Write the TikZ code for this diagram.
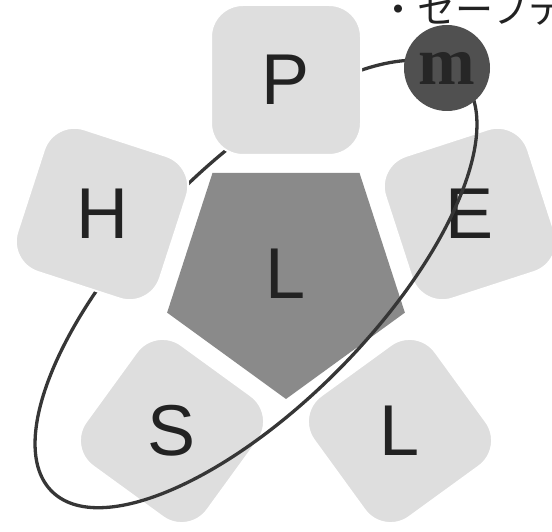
\documentclass[tikz,border=0pt]{standalone}
\usepackage{fontspec}
\setmainfont{Liberation Sans}
\newfontfamily\mfont{Liberation Serif}
\newfontfamily\jfont{Noto Sans CJK JP}
\usetikzlibrary{positioning}
\usetikzlibrary{shapes.geometric}
\definecolor{tilegray}{HTML}{DEDEDE}
\definecolor{coregray}{HTML}{8A8A8A}
\definecolor{ballgray}{HTML}{505050}
\definecolor{ink}{HTML}{222222}
\definecolor{orbitgray}{HTML}{363636}
\tikzset{tile/.style = {rectangle, rounded corners=32pt, fill=tilegray,
                        draw=white, line width=2pt, minimum size=150pt, inner sep=0}}
\tikzset{letter/.style = {text=ink, inner sep=0,
                          font=\fontsize{72pt}{72pt}\selectfont}}
\tikzset{core/.style = {regular polygon, regular polygon sides=5,
                        shape border rotate=180, fill=coregray,
                        minimum size=250pt, inner sep=0, text=ink,
                        font=\fontsize{72pt}{72pt}\selectfont}}
\tikzset{ball/.style = {circle, fill=ballgray, minimum size=86pt, inner sep=0,
                        text=black!85, font=\mfont\bfseries\fontsize{68pt}{68pt}\selectfont}}
\tikzset{orbit/.style = {draw=orbitgray, line width=3.3pt}}

\begin{document}
\begin{tikzpicture}[x=1pt, y=1pt]
      \useasboundingbox (0,0) rectangle (552,532);
      \clip (0,0) rectangle (552,532);

      \node[core] (core) at (286,258) {L};
      \node[tile, rotate=-36] (sbox) at (172,101) {};
      \node[letter] (s) at (sbox) {S};
      \node[tile, rotate=36] (lbox) at (400,101) {};
      \node[letter] (l) at (lbox) {L};
      \node[tile, rotate=18] (ebox) at (470,318) {};
      \node[letter] (e) at (ebox) {E};

      \draw[orbit] (256,248) circle[x radius=291pt, y radius=119pt, rotate=45.5];

      \node[tile, rotate=-18] (hbox) at (102,318) {};
      \node[letter] (h) at (hbox) {H};
      \node[tile] (pbox) at (286,452) {};
      \node[letter] (p) at (pbox) {P};
      \node[ball] (m) at (447,464) {m};

      \node[anchor=base west, inner sep=0, text=ink,
            font=\jfont\fontsize{38pt}{38pt}\selectfont] (title) at (379,508) {・セーフテ};
    \end{tikzpicture}
\end{document}
